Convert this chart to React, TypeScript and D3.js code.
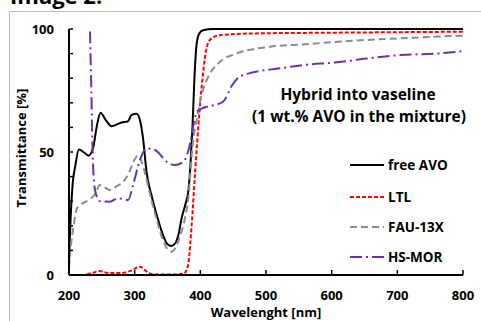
import React from "react";
import * as d3 from "d3";

const freeAVO: [number, number][] = [
  [200, 5], [202, 20], [205, 35], [210, 45], [215, 51], [222, 50], [230, 48.5], [237, 52], [242, 60], [248, 66],
  [256, 63], [265, 60.5], [280, 62], [290, 62.5], [295, 65], [303, 65.5], [308, 63], [313, 55], [318, 42], [326, 32],
  [334, 24], [344, 15.6], [350, 12.5], [356, 11.8], [362, 13], [366, 15.6], [372, 23.7], [377, 28.5], [382, 34.6],
  [385, 45], [388, 60], [391, 80], [394, 93], [398, 98], [404, 99.5], [420, 100], [800, 100],
];
const ltl: [number, number][] = [
  [200, 0], [220, 0], [235, 0.8], [247, 1.6], [260, 0.8], [278, 0.8], [295, 1.8], [308, 3.4], [318, 1.5], [328, 0.3],
  [350, 0.2], [374, 0.4], [378, 1.5], [382, 5], [387, 21], [392, 41.5], [398.5, 65.7], [403.6, 80.6], [410, 92.8],
  [417, 96.2], [430, 97.5], [480, 98.2], [552, 98.4], [650, 98.6], [800, 98.9],
];
const fau13x: [number, number][] = [
  [200, 3], [203, 12], [207, 20], [212, 27], [220, 29], [230, 30.5], [240, 33], [247, 36.6], [255, 35.5], [262, 34.6],
  [272, 36], [283, 38], [292, 42], [300, 47], [305, 48.5], [310, 46.5], [316, 41], [326, 30], [334, 22], [344, 13.5],
  [350, 10.5], [356, 9.5], [362, 11], [368, 15], [377, 23.7], [382, 32], [385, 42], [388, 52], [392, 60], [396, 65],
  [400, 71], [405, 76], [415, 82], [430, 86.7], [455, 90], [506, 92.8], [560, 93.8], [618, 95], [704, 96.2], [790, 97.2], [800, 97.3],
];
const hsMOR: [number, number][] = [
  [232, 99], [234, 75], [236, 50], [238, 38], [241, 33], [247, 30], [262, 29.8], [275, 31.2], [290, 30.5], [298, 37],
  [308, 46.7], [318, 51.5], [331, 50.8], [349, 46], [361, 44.7], [374, 46], [382, 50.8], [387, 57], [391, 63],
  [395, 66.4], [405, 68], [420, 69], [435, 70.5], [448, 77], [460, 80.6], [481, 82.4], [521, 84], [562, 85.5],
  [602, 86.3], [653, 88], [704, 89.4], [760, 90], [800, 91],
];

const seriesNames = ["free AVO", "LTL", "FAU-13X", "HS-MOR"];
const seriesData = [freeAVO, ltl, fau13x, hsMOR];
const seriesColors = ["#000000", "#ff0000", "#8c8c8c", "#7030a0"];
const seriesDash = ["", "4,2", "7,4", "12,4,2,4"];

const xTicks = [200, 300, 400, 500, 600, 700, 800];
const yTickLabels = [0, 50, 100];
const yMinorTicks = d3.range(0, 101, 10);

const FONT = "'Open Sans', Lato, sans-serif";

export default function App() {
  const x = d3.scaleLinear().domain([200, 800]).range([69, 463]);
  const y = d3.scaleLinear().domain([0, 100]).range([275, 29]);
  const line = d3
    .line<[number, number]>()
    .x((d) => x(d[0]))
    .y((d) => y(d[1]))
    .curve(d3.curveMonotoneX);

  return (
    <svg
      width={481}
      height={321}
      style={{ position: "absolute", left: 0, top: 0, background: "#fff" }}
      fontFamily={FONT}
      fontWeight="bold"
    >
      <rect x={0} y={0} width={481} height={321} fill="#fff" />
      <text x={10} y={4} fontSize={22} fill="#000">Image 2.</text>
      <line x1={9.5} y1={11.5} x2={481} y2={11.5} stroke="#bdbdbd" strokeWidth={1} />
      <line x1={9.5} y1={11.5} x2={9.5} y2={321} stroke="#bdbdbd" strokeWidth={1} />

      {seriesData.map((d, i) => (
        <path
          key={seriesNames[i]}
          d={line(d) || ""}
          fill="none"
          stroke={seriesColors[i]}
          strokeWidth={2}
          strokeDasharray={seriesDash[i] || undefined}
        />
      ))}

      <line x1={x(200)} y1={y(100)} x2={x(200)} y2={y(0)} stroke="#000" strokeWidth={2} />
      {yMinorTicks.map((t) => (
        <line key={t} x1={x(200)} x2={x(200) + 4} y1={y(t)} y2={y(t)} stroke="#000" strokeWidth={1.5} />
      ))}
      {yTickLabels.map((t) => (
        <text key={t} x={54} y={y(t)} dy="0.35em" textAnchor="end" fontSize={13} fill="#000">
          {t}
        </text>
      ))}
      <text transform={`translate(26,148) rotate(-90)`} textAnchor="middle" fontSize={13} fill="#000">
        Transmittance [%]
      </text>

      <line x1={x(200)} y1={y(0)} x2={x(800)} y2={y(0)} stroke="#000" strokeWidth={2} />
      {xTicks.map((t) => (
        <line key={t} x1={x(t)} x2={x(t)} y1={y(0)} y2={y(0) - 5} stroke="#000" strokeWidth={1.5} />
      ))}
      {xTicks.map((t) => (
        <text key={t} x={x(t)} y={295} dy="0.35em" textAnchor="middle" fontSize={13} fill="#000">
          {t}
        </text>
      ))}
      <text x={266} y={312} dy="0.35em" textAnchor="middle" fontSize={13} fill="#000">
        Wavelenght [nm]
      </text>

      <text x={358} y={100} textAnchor="middle" fontSize={15.5} fill="#000">
        Hybrid into vaseline
      </text>
      <text x={359} y={122} textAnchor="middle" fontSize={15.5} fill="#000">
        (1 wt.% AVO in the mixture)
      </text>

      {seriesNames.map((n, i) => {
        const ly = [165, 197, 227, 257][i];
        return (
          <g key={n}>
            <line
              x1={350}
              x2={384}
              y1={ly}
              y2={ly}
              stroke={seriesColors[i]}
              strokeWidth={2}
              strokeDasharray={seriesDash[i] || undefined}
            />
            <text x={388} y={ly} dy="0.35em" fontSize={13.5} fill="#000">
              {n}
            </text>
          </g>
        );
      })}
    </svg>
  );
}
